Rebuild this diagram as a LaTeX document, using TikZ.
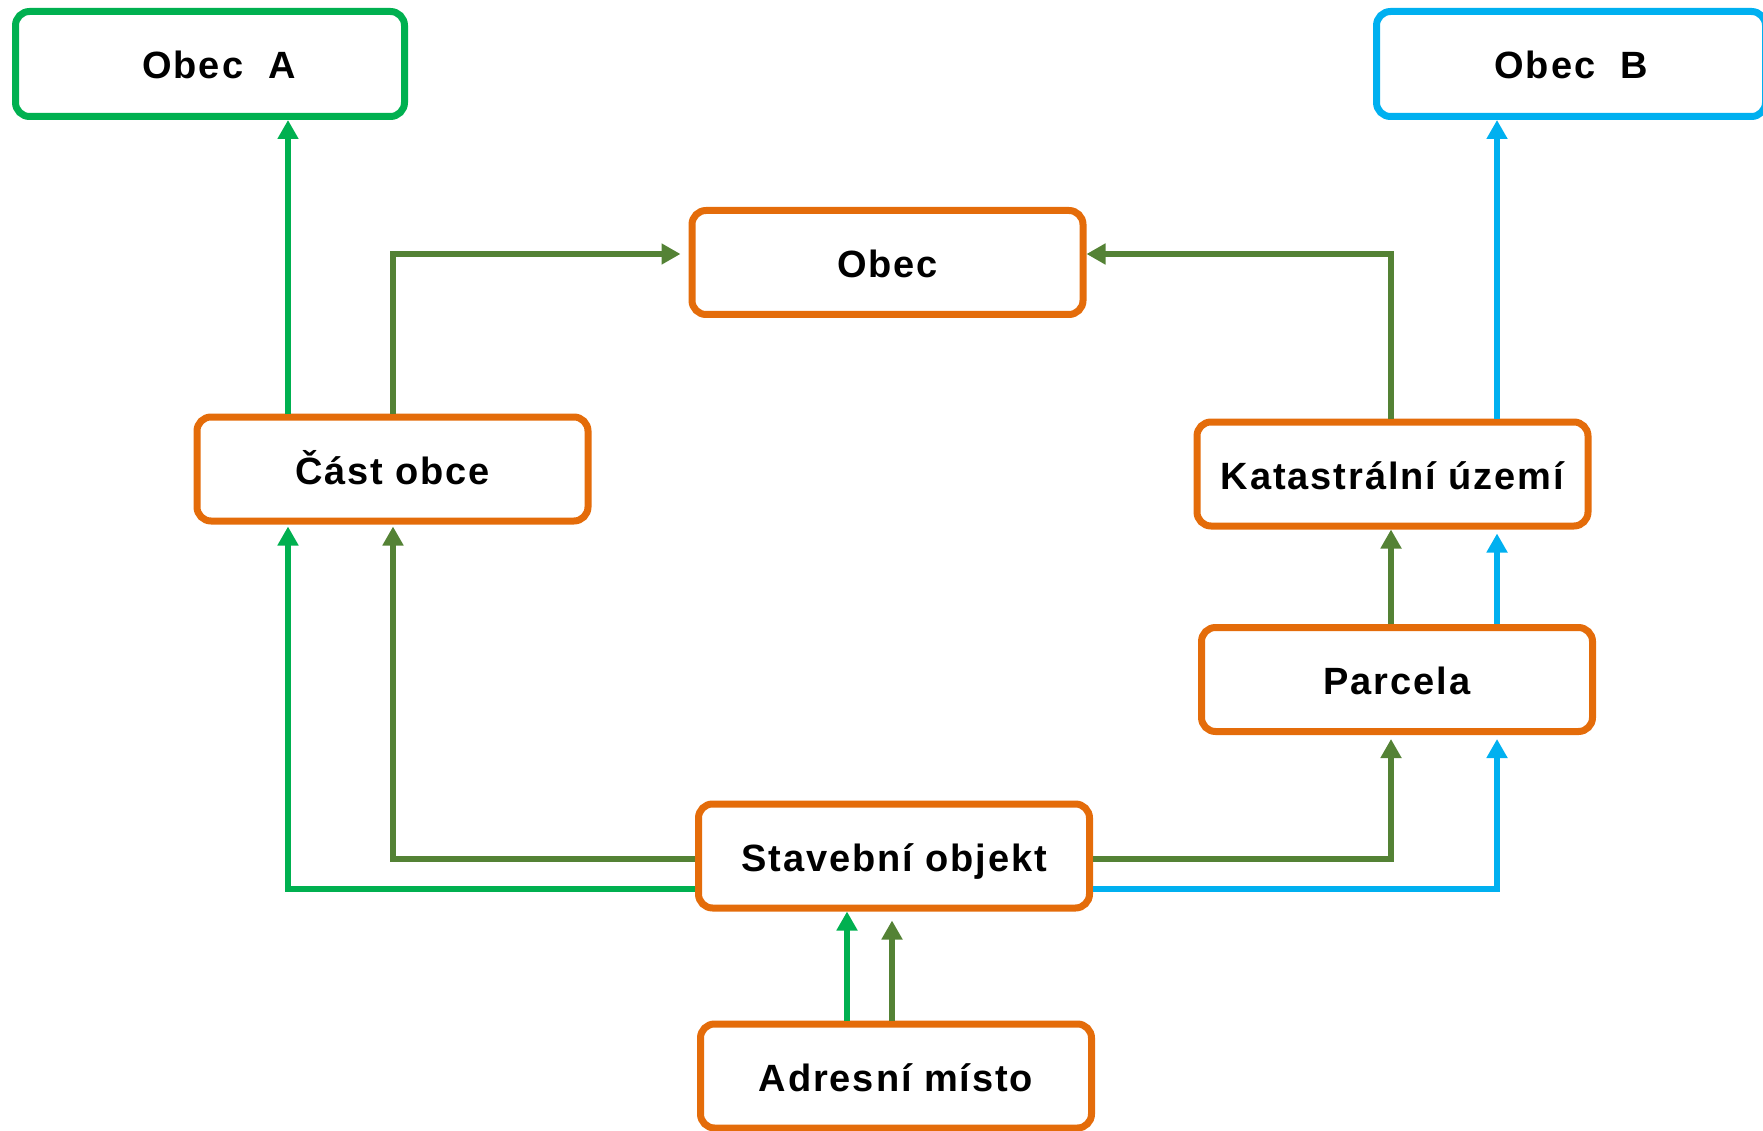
\documentclass[tikz,border=0pt]{standalone}
\usepackage{fontspec}
\setmainfont{Liberation Sans}[LetterSpace=5]
\usetikzlibrary{arrows.meta}
\definecolor{boxorange}{HTML}{E46C0A}
\definecolor{lgreen}{HTML}{00B050}
\definecolor{dgreen}{HTML}{548235}
\definecolor{lblue}{HTML}{00B0F0}
\begin{document}
\begin{tikzpicture}[x=1pt,y=-1pt,
  box/.style={draw=boxorange, line width=7pt, rounded corners=14pt, fill=white,
    minimum width=391pt, minimum height=104pt, inner sep=0pt,
    text height=30pt, text depth=0pt,
    font=\fontsize{38}{46}\selectfont\bfseries},
  townA/.style={box, draw=lgreen, minimum width=389pt, minimum height=105pt},
  townB/.style={box, draw=lblue, minimum width=389pt, minimum height=105pt},
  conn/.style={line width=6pt, line join=miter, -{Triangle[width=20pt,length=19pt]}},
  cg/.style={conn, draw=lgreen},
  cd/.style={conn, draw=dgreen},
  cb/.style={conn, draw=lblue}
]
\useasboundingbox (0,0) rectangle (1763,1131);

% boxes
\node[townA] (obecA) at (210,64) {\hspace*{18pt}Obec\ \ A};
\node[townB] (obecB) at (1571,64) {Obec\ \ B};
\node[box] (obec) at (887.5,262.5) {Obec};
\node[box] (cast) at (392.5,469) {Část obce};
\node[box] (kat) at (1392.5,474) {Katastrální území};
\node[box] (parc) at (1397,679.5) {Parcela};
\node[box] (stav) at (894,856) {Stavební objekt};
\node[box] (adr) at (896,1076) {Adresní místo};

% helper coordinates
\coordinate (xg) at (288,0);
\coordinate (xdL) at (393,0);
\coordinate (xdR) at (1391,0);
\coordinate (xb) at (1497,0);
\coordinate (xa1) at (847,0);
\coordinate (xa2) at (892,0);
\coordinate (rT) at (0,254);
\coordinate (rS1) at (0,859);
\coordinate (rS2) at (0,889);
\coordinate (obecL) at ([xshift=-8pt]obec.west);
\coordinate (stavS2) at ([yshift=-9pt]stav.south);
\coordinate (parcS) at ([yshift=-4pt]parc.south);
\coordinate (katS2) at ([yshift=-4pt]kat.south);
\coordinate (castS) at ([yshift=-2pt]cast.south);

% connectors
\draw[cg] (xg |- cast.north) -- (xg |- obecA.south);
\draw[cd] (xdL |- cast.north) -- (xdL |- rT) -- (obecL |- rT);
\draw[cd] (xdR |- kat.north) -- (xdR |- rT) -- (obec.east |- rT);
\draw[cb] (xb |- kat.north) -- (xb |- obecB.south);

\draw[cd] (xdR |- parc.north) -- (xdR |- kat.south);
\draw[cb] (xb |- parc.north) -- (xb |- katS2);

\draw[cd] (stav.west |- rS1) -- (xdL |- rS1) -- (xdL |- castS);
\draw[cg] (stav.west |- rS2) -- (xg |- rS2) -- (xg |- castS);
\draw[cd] (stav.east |- rS1) -- (xdR |- rS1) -- (xdR |- parcS);
\draw[cb] (stav.east |- rS2) -- (xb |- rS2) -- (xb |- parcS);

\draw[cg] (xa1 |- adr.north) -- (xa1 |- stav.south);
\draw[cd] (xa2 |- adr.north) -- (xa2 |- stavS2);
\end{tikzpicture}
\end{document}
